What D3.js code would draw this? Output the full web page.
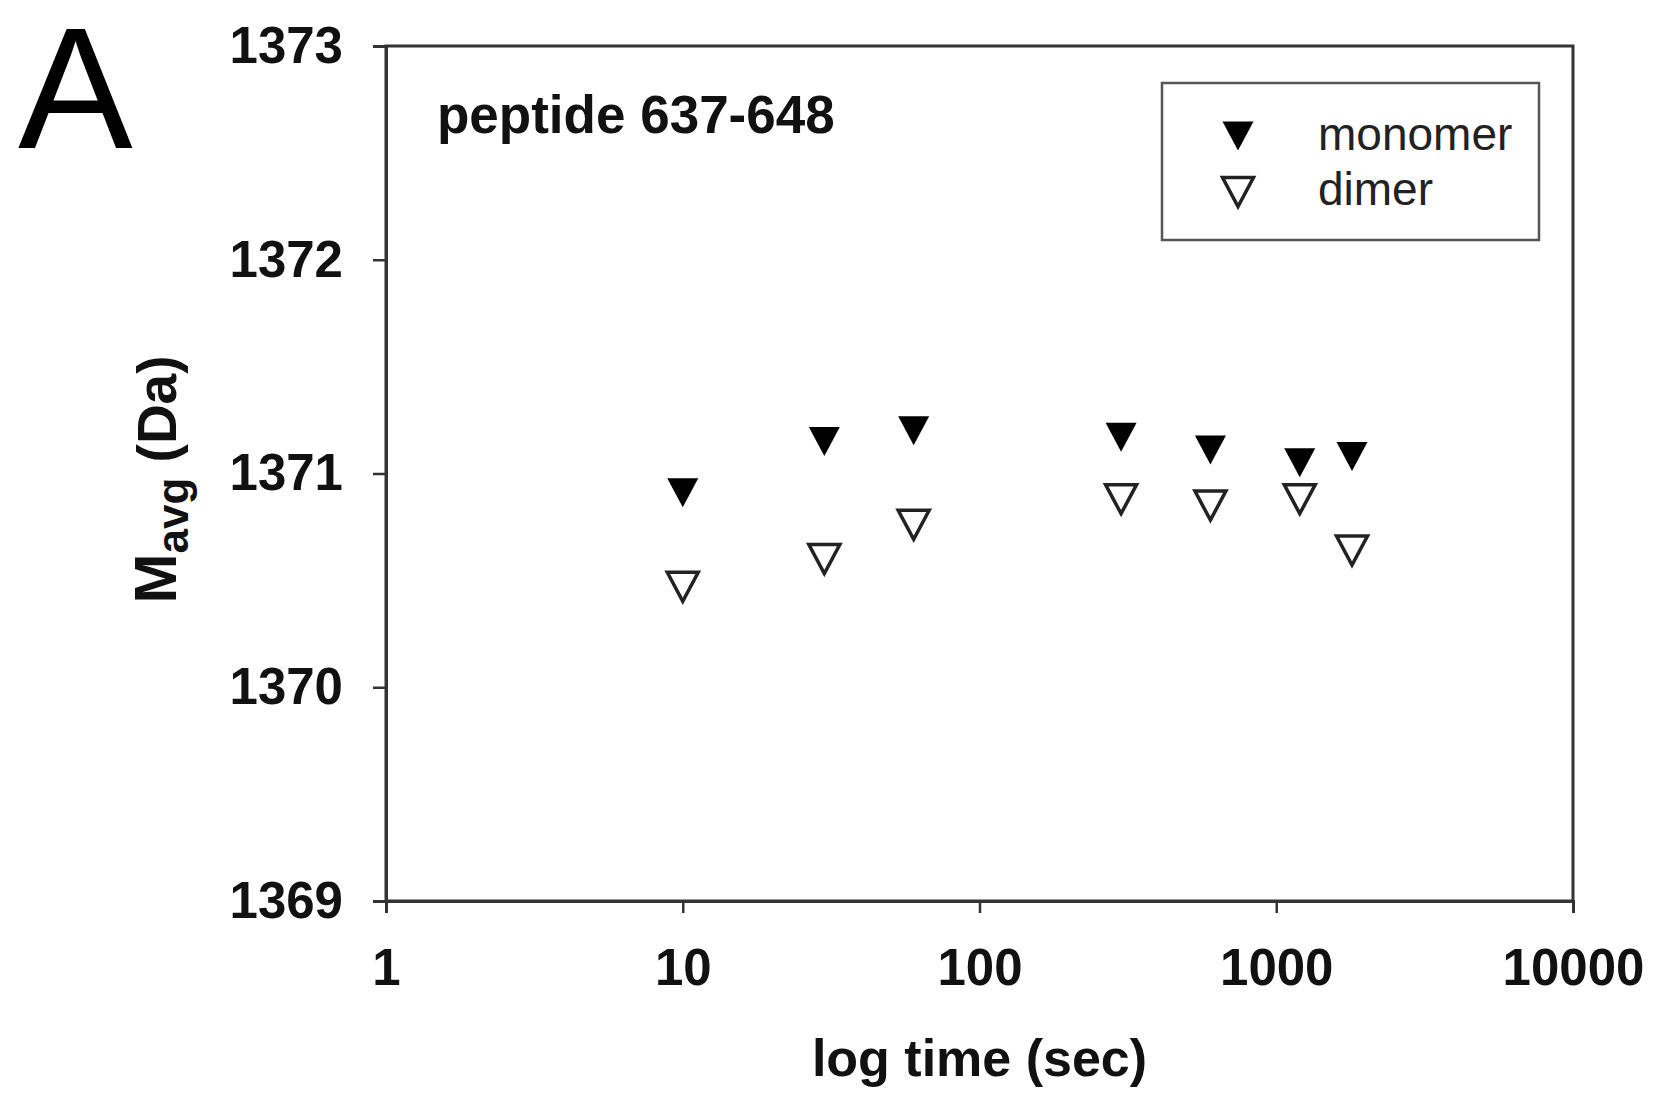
<!DOCTYPE html>
<html>
<head>
<meta charset="utf-8">
<script src="https://cdn.jsdelivr.net/npm/d3@7"></script>
<style>
  body { margin: 0; background: #fff; }
  text { font-family: "Liberation Sans", Arial, sans-serif; }
</style>
</head>
<body>
<div id="chart"></div>
<script>
  // values
  var times = [10, 30, 60, 300, 600, 1200, 1800];
  var monomer = [1370.91, 1371.15, 1371.20, 1371.17, 1371.11, 1371.05, 1371.08];
  var dimer = [1370.47, 1370.60, 1370.76, 1370.88, 1370.85, 1370.88, 1370.64];
  var xTicks = [1, 10, 100, 1000, 10000];
  var yTicks = [1369, 1370, 1371, 1372, 1373];

  var width = 1654,
    height = 1094;

  var plotLeft = 386, plotRight = 1573, plotTop = 46, plotBottom = 901;

  var svg = d3.select("#chart")
    .append("svg")
    .attr("width", width)
    .attr("height", height);

  var x = d3.scaleLog().domain([1, 10000]).range([plotLeft, plotRight]);
  var y = d3.scaleLinear().domain([1369, 1373]).range([plotBottom, plotTop]);

  // frame
  svg.append("rect")
    .attr("x", plotLeft).attr("y", plotTop)
    .attr("width", plotRight - plotLeft).attr("height", plotBottom - plotTop)
    .attr("fill", "none")
    .attr("stroke", "#333")
    .attr("stroke-width", 3);

  var xAxis = svg.append("g")
    .attr("transform", "translate(0," + plotBottom + ")")
    .call(d3.axisBottom(x).tickValues(xTicks).tickFormat(d3.format("d")).tickSize(12).tickPadding(36));

  var yAxis = svg.append("g")
    .attr("transform", "translate(" + plotLeft + ",0)")
    .call(d3.axisLeft(y).tickValues(yTicks).tickFormat(d3.format("d")).tickSize(13).tickPadding(30));

  [xAxis, yAxis].forEach(function (ax) {
    ax.select(".domain").attr("stroke", "#333").attr("stroke-width", 3);
    ax.selectAll(".tick line").attr("stroke", "#333").attr("stroke-width", 2.5);
    ax.selectAll(".tick text")
      .attr("fill", "#111")
      .style("font-family", '"Liberation Sans", Arial, sans-serif')
      .style("font-size", "51px")
      .style("font-weight", "bold");
  });

  // triangle pointing down
  function tri(cx, cy) {
    var w = 15.5, h = 14.5;
    return "M" + (cx - w) + "," + (cy - h) + "L" + (cx + w) + "," + (cy - h) + "L" + cx + "," + (cy + h) + "Z";
  }

  svg.selectAll(".mono")
    .data(times)
    .enter().append("path")
    .attr("class", "mono")
    .attr("d", function (d, i) { return tri(x(d), y(monomer[i])); })
    .attr("fill", "#000");

  svg.selectAll(".dim")
    .data(times)
    .enter().append("path")
    .attr("class", "dim")
    .attr("d", function (d, i) { return tri(x(d), y(dimer[i])); })
    .attr("fill", "#fff")
    .attr("stroke", "#222")
    .attr("stroke-width", 3.5)
    .attr("stroke-linejoin", "miter");

  // legend
  svg.append("rect")
    .attr("x", 1162).attr("y", 83)
    .attr("width", 377).attr("height", 157)
    .attr("fill", "none")
    .attr("stroke", "#555")
    .attr("stroke-width", 2.5);

  svg.append("path").attr("d", tri(1238, 136)).attr("fill", "#000");
  svg.append("path").attr("d", tri(1238, 192))
    .attr("fill", "#fff").attr("stroke", "#222").attr("stroke-width", 3.5);

  svg.append("text").attr("x", 1318).attr("y", 150)
    .style("font-size", "46px").attr("fill", "#222").text("monomer");
  svg.append("text").attr("x", 1318).attr("y", 205)
    .style("font-size", "46px").attr("fill", "#222").text("dimer");

  // labels
  svg.append("text").attr("x", 437).attr("y", 133)
    .style("font-size", "53px").style("font-weight", "bold").attr("fill", "#111")
    .text("peptide 637-648");

  svg.append("text").attr("x", (plotLeft + plotRight) / 2).attr("y", 1076)
    .attr("text-anchor", "middle")
    .style("font-size", "52px").style("font-weight", "bold").attr("fill", "#111")
    .text("log time (sec)");

  var yt = svg.append("text")
    .attr("transform", "translate(176," + ((plotTop + plotBottom) / 2 + 6) + ") rotate(-90)")
    .attr("text-anchor", "middle")
    .style("font-weight", "bold").attr("fill", "#111");
  yt.append("tspan").style("font-size", "60px").text("M");
  yt.append("tspan").style("font-size", "44px").attr("dy", 12).text("avg");
  yt.append("tspan").style("font-size", "55px").attr("dy", -12).text(" (Da)");

  svg.append("text").attr("x", 18).attr("y", 148)
    .style("font-size", "172px").attr("fill", "#000")
    .text("A");
</script>
</body>
</html>
